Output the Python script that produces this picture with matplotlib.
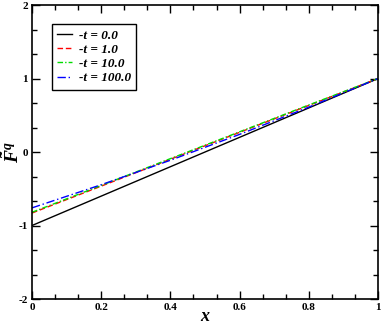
import numpy as np
import matplotlib
matplotlib.use("Agg")
import matplotlib.pyplot as plt
from matplotlib.ticker import MultipleLocator

plt.rcParams['font.family'] = 'Liberation Serif'
plt.rcParams['font.weight'] = 'bold'
plt.rcParams['mathtext.fontset'] = 'custom'
plt.rcParams['mathtext.it'] = 'Liberation Serif:bold:italic'
plt.rcParams['mathtext.rm'] = 'Liberation Serif:bold'

# values
x = [0.0, 0.2, 0.4, 0.6, 0.8, 1.0]
t0 = [-1.0, -0.6, -0.2, 0.2, 0.6, 1.0]
t1 = [-0.83, -0.464, -0.098, 0.268, 0.634, 1.0]
t10 = [-0.82, -0.455, -0.09, 0.275, 0.64, 1.0]
t100 = [-0.76, -0.445, -0.112, 0.24, 0.611, 1.0]
labels = ['-t = 0.0', '-t = 1.0', '-t = 10.0', '-t = 100.0']

fig = plt.figure(figsize=(3.82, 3.27), dpi=100)
ax = fig.add_axes([0.0838, 0.0856, 0.9057, 0.899])

ax.plot(x, t0, color='black', lw=1.0, label=labels[0])
ax.plot(x, t1, color='red', lw=1.0, ls=(0, (4, 2)), label=labels[1])
ax.plot(x, t10, color='#00dd00', lw=1.0, ls=(0, (4, 1.5, 1, 1.5)), label=labels[2])
ax.plot(x, t100, color='blue', lw=1.0, ls=(0, (6, 2, 1, 2)), label=labels[3])

ax.set_xlim(0, 1)
ax.set_ylim(-2, 2)
ax.xaxis.set_minor_locator(MultipleLocator(0.2 / 3))
ax.yaxis.set_minor_locator(MultipleLocator(1 / 3))
ax.set_xticks([0, 0.2, 0.4, 0.6, 0.8, 1.0])
ax.set_xticklabels(['0', '0.2', '0.4', '0.6', '0.8', '1'])
ax.set_yticks([-2, -1, 0, 1, 2])
ax.set_yticklabels(['-2', '-1', '0', '1', '2'])
ax.tick_params(which='both', direction='in', top=True, right=True, width=1.0, labelsize=8)
ax.tick_params(which='major', length=6, pad=3)
ax.tick_params(which='minor', length=3.5)
for s in ax.spines.values():
    s.set_linewidth(1.2)

ax.set_xlabel('$x$', fontsize=13, labelpad=-3)
ax.set_ylabel(r'$\tilde{F}^{q}$', fontsize=14, labelpad=-3)

leg = ax.legend(loc='upper left', bbox_to_anchor=(0.057, 0.935),
                prop={'style': 'italic', 'weight': 'bold', 'size': 9.5},
                fancybox=False, edgecolor='black', framealpha=1,
                handlelength=1.1, handletextpad=0.55, labelspacing=0.15,
                borderpad=0.4, borderaxespad=0)
leg.get_frame().set_linewidth(1.0)

fig.savefig('out.png', dpi=100)
